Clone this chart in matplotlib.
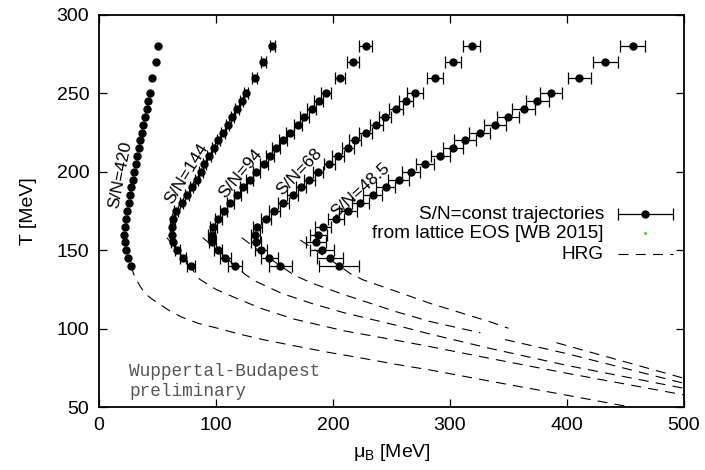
import numpy as np
import matplotlib
matplotlib.use("Agg")
import matplotlib.pyplot as plt

plt.rcParams['font.family'] = ['Liberation Sans', 'DejaVu Sans']
plt.rcParams['mathtext.fontset'] = 'custom'
plt.rcParams['mathtext.rm'] = 'Liberation Sans'
plt.rcParams['mathtext.it'] = 'Liberation Sans'

# ---- data ----
T_vals = [140, 145, 150, 155, 160, 165, 170, 175, 180, 185, 190, 195, 200,
          205, 210, 215, 220, 225, 230, 235, 240, 245, 250, 260, 270, 280]

mu_420 = [27.6, 25.0, 22.8, 21.9, 21.7, 22.2, 23.1, 24.2, 25.4, 26.5, 27.6, 28.8, 30.2,
          31.4, 32.8, 33.9, 35.0, 36.5, 37.6, 39.3, 40.7, 41.9, 43.3, 45.6, 48.4, 50.7]
err_420 = [0.0] * 26

mu_144 = [78.6, 72.0, 67.0, 63.0, 62.0, 62.0, 63.5, 65.8, 70.7, 75.0, 79.2, 83.5, 87.2,
          90.0, 94.0, 98.0, 102.0, 106.0, 110.0, 114.0, 118.0, 122.0, 125.5, 133.0, 140.5, 148.0]
err_144 = [3.5, 2.5, 2.0, 1.5, 1.5, 1.5, 1.5, 1.5, 1.5, 1.5, 1.5, 1.5, 1.5,
           1.5, 1.5, 1.5, 1.5, 1.5, 1.5, 1.5, 1.5, 1.5, 1.5, 2.0, 2.0, 2.0]

mu_94 = [116.5, 108.0, 101.4, 96.8, 96.3, 97.7, 102.0, 106.8, 112.0, 118.2, 123.4, 129.0, 134.4,
         141.3, 146.4, 151.5, 157.5, 163.5, 170.0, 175.5, 181.8, 187.8, 194.0, 206.0, 216.8, 228.0]
err_94 = [6.0, 4.5, 3.5, 3.0, 3.0, 3.0, 3.0, 3.0, 3.0, 3.0, 3.0, 3.0, 3.0,
          3.5, 3.5, 3.5, 3.5, 3.5, 3.5, 4.0, 4.0, 4.0, 4.0, 4.5, 5.0, 5.5]

mu_68 = [155.0, 145.6, 138.5, 134.2, 133.6, 135.3, 142.7, 149.9, 157.5, 165.5, 172.6, 179.8, 187.0,
         196.9, 204.0, 212.6, 219.0, 228.0, 237.0, 244.4, 254.0, 262.4, 270.0, 287.0, 302.6, 318.5]
err_68 = [10.0, 7.5, 5.0, 4.5, 4.0, 4.0, 4.0, 4.5, 4.5, 4.5, 4.5, 4.5, 4.5,
          5.0, 5.0, 5.0, 5.0, 5.5, 5.5, 5.5, 6.0, 6.0, 6.5, 7.0, 7.0, 7.5]

mu_48 = [205.4, 197.4, 190.6, 185.5, 187.5, 191.5, 202.6, 212.8, 223.4, 233.9, 245.0, 256.1, 266.7,
         278.6, 291.7, 302.6, 312.8, 325.4, 338.5, 349.3, 363.2, 374.6, 386.6, 410.5, 432.7, 456.0]
err_48 = [17.0, 11.0, 10.0, 8.8, 7.0, 6.7, 7.0, 7.4, 7.4, 8.0, 8.0, 8.8, 8.0,
          7.7, 8.0, 8.5, 9.0, 9.0, 9.5, 9.4, 9.8, 9.7, 9.5, 10.0, 10.7, 11.0]

# HRG curves (NaN = gap in the drawn curve)
hrg_420_mu = [27.6, 29.5, 32, 36, 40, 45, 50, 60, 71, 85, 100, 120, 140, 165, 195, 220, 253, 283, 334, 400, 454]
hrg_420_T = [140, 135, 131, 126, 122, 119, 116.5, 111.5, 107.2, 103.3, 100.5, 96.5, 93, 89.3, 85, 81.8, 77.3, 73.6, 66.5, 57.5, 50]

hrg_144_mu = [58, 68, 77.5, 86, 100, 120, 140, 167, 210, 253, 283, 334, 400, 500]
hrg_144_T = [158, 149, 140, 131.5, 125, 118.5, 112.5, 106, 98.5, 92.7, 88.5, 81, 71.5, 57.7]

hrg_94_mu = [88.6, 103, 116.5, 125, 133, 156, 182, 210, 253, 283, 334, 400, 500]
hrg_94_T = [158, 149, 140, 134.5, 130.5, 122.5, 116, 110, 102.3, 96.5, 87.4, 76.5, 61.9]

hrg_68_mu = [122, 138, 155, 167, 182, 210, 253, 283, 326, np.nan, 347, 400, 500]
hrg_68_T = [158, 149, 140, 134, 129, 121.5, 111, 104.5, 97.3, np.nan, 93, 84, 65.1]

hrg_48_mu = [172, 189, 205.4, 215, 226, 253, 283, 334, 350, np.nan, 391, 500]
hrg_48_T = [156.5, 148, 140, 135, 131, 124, 116.1, 104.4, 100.2, np.nan, 91, 68.3]

labels = ["S/N=420", "S/N=144", "S/N=94", "S/N=68", "S/N=48.5"]
label_pos_mu = [18, 75, 121, 171, 223]
label_pos_T = [198, 198.6, 199, 200, 188.5]
label_rot = [79, 58, 50, 46, 42]

x_ticks = [0, 100, 200, 300, 400, 500]
y_ticks = [50, 100, 150, 200, 250, 300]

# ---- figure ----
fig = plt.figure(figsize=(7.05, 4.70), dpi=100)
ax = fig.add_axes([99 / 705, 1 - 407 / 470, 585 / 705, 392 / 470])

dash = (0, (9, 6.5))
for m, t in [(hrg_420_mu, hrg_420_T), (hrg_144_mu, hrg_144_T), (hrg_94_mu, hrg_94_T),
             (hrg_68_mu, hrg_68_T), (hrg_48_mu, hrg_48_T)]:
    ax.plot(m, t, color='black', lw=0.8, linestyle=dash, zorder=2)

ax.plot(mu_420, T_vals, 'o', color='black', ms=5, zorder=3)
for m, e in [(mu_144, err_144), (mu_94, err_94), (mu_68, err_68), (mu_48, err_48)]:
    ax.errorbar(m, T_vals, xerr=e, fmt='o', color='black', ms=5, elinewidth=0.9,
                capsize=4.2, capthick=0.9, zorder=3)

for lab, xm, yt, r in zip(labels, label_pos_mu, label_pos_T, label_rot):
    ax.text(xm, yt, lab, rotation=r, ha='center', va='center', fontsize=12.5,
            rotation_mode='anchor')

ax.text(26, 72.5, "Wuppertal-Budapest", family='Liberation Mono', fontsize=12.8,
        color='#555555', ha='left', va='center')
ax.text(26, 59.8, "preliminary", family='Liberation Mono', fontsize=12.8,
        color='#555555', ha='left', va='center')

# legend (gnuplot style: text right-aligned, sample on the right)
tr = ax.transAxes
fs_leg = 13.7
ax.text(0.863, 0.492, "S/N=const trajectories", transform=tr, ha='right', va='center', fontsize=fs_leg)
ax.text(0.863, 0.443, "from lattice EOS [WB 2015]", transform=tr, ha='right', va='center', fontsize=fs_leg)
ax.text(0.863, 0.390, "HRG", transform=tr, ha='right', va='center', fontsize=fs_leg)
ax.errorbar([0.934], [0.492], xerr=[0.047], transform=tr, fmt='o', color='black', ms=5,
            elinewidth=0.9, capsize=4.2, capthick=0.9, clip_on=False)
ax.plot([0.934], [0.443], transform=tr, marker='s', ms=1, color='#33dd33', ls='none')
ax.plot([0.887, 0.981], [0.390, 0.390], transform=tr, color='black', lw=0.8, linestyle=dash)

ax.set_xlim(0, 500)
ax.set_ylim(50, 300)
ax.set_xticks(x_ticks)
ax.set_yticks(y_ticks)
ax.tick_params(direction='in', length=5.5, width=0.9, top=True, right=True, labelsize=14, pad=7)
for s in ax.spines.values():
    s.set_linewidth(1.3)

ax.set_xlabel(r'$\mathrm{μ_B}$ [MeV]', fontsize=14, labelpad=6)
ax.set_ylabel('T [MeV]', fontsize=14, labelpad=14)

fig.savefig('out.png', dpi=100)
